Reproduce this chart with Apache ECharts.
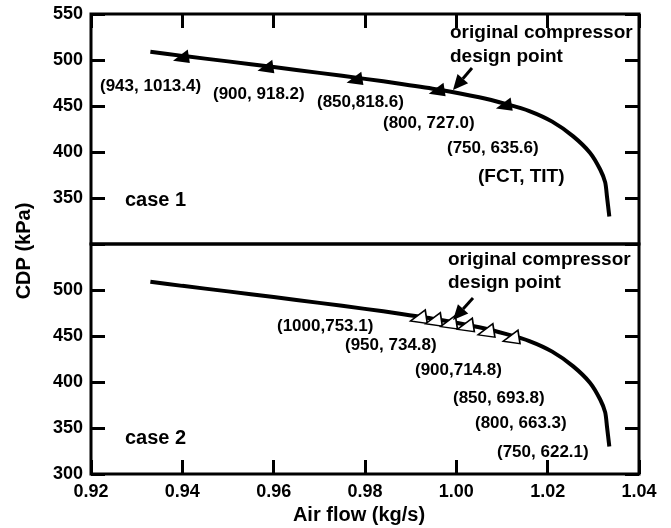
<!DOCTYPE html>
<html>
<head>
<meta charset="utf-8">
<script src="https://cdn.jsdelivr.net/npm/echarts@6/dist/echarts.min.js"></script>
<style>
  html, body { margin: 0; padding: 0; background: #fff; }
  #chart { width: 671px; height: 528px; }
</style>
</head>
<body>
<div id="chart"></div>
<script>
// curve (same curve in both panels)
var airflow = [0.933, 0.940, 0.950, 0.960, 0.970, 0.980, 0.988, 0.996, 1.005, 1.011, 1.016, 1.021, 1.0256, 1.0293, 1.0315, 1.0326, 1.0330, 1.0335];
var cdp     = [509, 504.5, 498.5, 492.3, 486, 479.5, 474, 468, 459.5, 452, 444.5, 433, 417, 399, 381, 367, 351, 330];

// case 1 points (filled triangles)
var case1X = [0.940, 0.9585, 0.978, 0.996, 1.0107];
var case1Y = [505, 494, 481, 469, 453];
var case1Labels = ['(943, 1013.4)', '(900, 918.2)', '(850,818.6)', '(800, 727.0)', '(750, 635.6)'];

// case 2 points (open triangles)
var case2X = [0.992, 0.9953, 0.9986, 1.0023, 1.0068, 1.0123];
var case2Y = [472, 469, 466, 463, 457, 450];
var case2Labels = ['(1000,753.1)', '(950, 734.8)', '(900,714.8)', '(850, 693.8)', '(800, 663.3)', '(750, 622.1)'];

var xTicks = [0.92, 0.94, 0.96, 0.98, 1.00, 1.02, 1.04];

var FONT = '"Liberation Sans", Arial, sans-serif';
var tri = 'path://M0,12 L10,0 L13,12 Z';

function pairs(xs, ys) {
  return xs.map(function (x, i) { return [x, ys[i]]; });
}

// label anchors (left, middle) in pixels
var case1Pos = [[100, 86], [213, 94], [317, 102], [383, 123], [447, 148]];
var case2Pos = [[277, 326], [345, 345], [415, 370], [453, 398], [475, 423], [497, 452]];

function txt(s, x, y, size, align, rot) {
  return {
    type: 'text', x: x, y: y, z: 100, rotation: rot || 0,
    style: { text: s, font: 'bold ' + size + 'px ' + FONT, fill: '#000', align: align || 'left', verticalAlign: 'middle' }
  };
}

function arrow(tail, tip) {
  var dx = tip[0] - tail[0], dy = tip[1] - tail[1];
  var len = Math.sqrt(dx * dx + dy * dy);
  var ux = dx / len, uy = dy / len;
  var hl = 15, hw = 7;
  var bx = tip[0] - ux * hl, by = tip[1] - uy * hl;
  var nx = -uy, ny = ux;
  return [
    { type: 'line', z: 100, shape: { x1: tail[0], y1: tail[1], x2: bx, y2: by }, style: { stroke: '#000', lineWidth: 3 } },
    { type: 'polygon', z: 100, shape: { points: [tip, [bx + nx * hw, by + ny * hw], [bx - nx * hw, by - ny * hw]] }, style: { fill: '#000' } }
  ];
}

var graphics = [];
case1Labels.forEach(function (s, i) { graphics.push(txt(s, case1Pos[i][0], case1Pos[i][1], 17)); });
case2Labels.forEach(function (s, i) { graphics.push(txt(s, case2Pos[i][0], case2Pos[i][1], 17)); });
graphics.push(txt('(FCT, TIT)', 478, 177, 19));
graphics.push(txt('original compressor', 450, 33, 19));
graphics.push(txt('design point', 450, 57, 19));
graphics.push(txt('original compressor', 448, 260, 19));
graphics.push(txt('design point', 448, 283, 19));
graphics.push(txt('case 1', 125, 200, 20));
graphics.push(txt('case 2', 125, 438, 20));
graphics.push(txt('Air flow (kg/s)', 359, 515, 20, 'center'));
graphics.push(txt('CDP (kPa)', 24, 251, 20, 'center', Math.PI / 2));
graphics = graphics.concat(arrow([472, 68], [453, 90]));
graphics = graphics.concat(arrow([473, 298], [453, 320]));

var tickStyle = { inside: true, length: 14, lineStyle: { color: '#000', width: 3 } };
var labelStyle = { color: '#000', fontSize: 18, fontWeight: 'bold', fontFamily: FONT };

function yAxis(grid, side, hide) {
  return {
    type: 'value', gridIndex: grid, position: side, min: 300, max: 550, interval: 50,
    axisLine: { show: false }, splitLine: { show: false }, axisTick: tickStyle,
    axisLabel: side === 'left' ? Object.assign({
      margin: 8,
      formatter: function (v) { return v === hide ? '' : v; }
    }, labelStyle) : { show: false }
  };
}

var chart = echarts.init(document.getElementById('chart'));
chart.setOption({
  animation: false,
  backgroundColor: '#fff',
  grid: [
    { left: 91, right: 32, top: 14, height: 230, show: true, borderColor: '#000', borderWidth: 3 },
    { left: 91, right: 32, top: 244, height: 230, show: true, borderColor: '#000', borderWidth: 3 }
  ],
  xAxis: [
    { type: 'value', gridIndex: 0, position: 'top', min: xTicks[0], max: xTicks[xTicks.length - 1], interval: 0.02,
      axisLine: { show: false }, splitLine: { show: false }, axisTick: tickStyle, axisLabel: { show: false } },
    { type: 'value', gridIndex: 1, position: 'bottom', min: xTicks[0], max: xTicks[xTicks.length - 1], interval: 0.02,
      axisLine: { show: false }, splitLine: { show: false }, axisTick: tickStyle,
      axisLabel: Object.assign({ margin: 9, formatter: function (v) { return v.toFixed(2); } }, labelStyle) }
  ],
  yAxis: [yAxis(0, 'left', 300), yAxis(0, 'right'), yAxis(1, 'left', 550), yAxis(1, 'right')],
  series: [
    { type: 'line', xAxisIndex: 0, yAxisIndex: 0, data: pairs(airflow, cdp), smooth: 0.25,
      showSymbol: false, lineStyle: { color: '#000', width: 4 } },
    { type: 'scatter', xAxisIndex: 0, yAxisIndex: 0, data: pairs(case1X, case1Y), symbol: tri, symbolSize: [17, 13],
      symbolRotate: -8, itemStyle: { color: '#000', opacity: 1 }, z: 5 },
    { type: 'line', xAxisIndex: 1, yAxisIndex: 2, data: pairs(airflow, cdp), smooth: 0.25,
      showSymbol: false, lineStyle: { color: '#000', width: 4 } },
    { type: 'scatter', xAxisIndex: 1, yAxisIndex: 2, data: pairs(case2X, case2Y), symbol: tri, symbolSize: [17, 13],
      symbolRotate: -8, itemStyle: { color: '#fff', borderColor: '#000', borderWidth: 1.5, opacity: 1 }, z: 5 }
  ],
  graphic: graphics
});
</script>
</body>
</html>
